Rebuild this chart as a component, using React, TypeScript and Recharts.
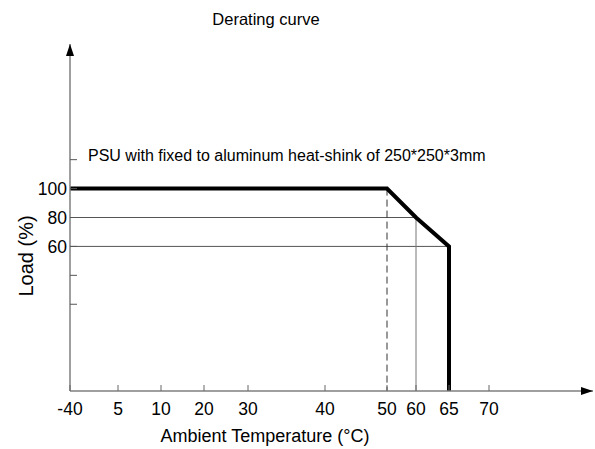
import React from 'react';
import {
    ComposedChart, Line, XAxis, YAxis, ReferenceLine, ReferenceDot, Customized
} from 'recharts';

// ambient temperature tick labels (°C) and load ticks (%)
const tempTicks = [-40, 5, 10, 20, 30, 40, 50, 60, 65, 70];
const loadTicks = [20, 40, 60, 80, 100, 120];
const loadLabels = [60, 80, 100];

// derating curve
const curveTemp = [-40, 50, 60, 65, 65];
const curveLoad = [100, 100, 80, 60, -40];

const LOAD_MIN = -40;
const LOAD_MAX = 200;

// the temperature axis is hand drawn (not to scale): offset of each tick along it
const TICK_OFFSET = [0, 48, 91, 134, 178, 255, 317, 346, 379, 419];
const AXIS_LEN = 523;

const FONT = '"Liberation Sans", Arial, sans-serif';

const toAxis = (t: number) => {
    for (let i = 1; i < tempTicks.length; i++) {
        if (t <= tempTicks[i]) {
            const f = (t - tempTicks[i - 1]) / (tempTicks[i] - tempTicks[i - 1]);
            return TICK_OFFSET[i - 1] + f * (TICK_OFFSET[i] - TICK_OFFSET[i - 1]);
        }
    }
    return TICK_OFFSET[TICK_OFFSET.length - 1];
};

const curve = curveTemp.map((t, i) => ({ x: toAxis(t), load: curveLoad[i] }));
const xTickPos = tempTicks.map(toAxis);

const XTick = (props: any) => {
    const { x, y, payload } = props;
    const idx = xTickPos.indexOf(payload.value);
    return (
        <g>
            <line x1={x} x2={x} y1={y} y2={y - 6} stroke="#666" strokeWidth={1} />
            <text x={x} y={y + 24} textAnchor="middle" fontSize={17.5} fontFamily={FONT} fill="#000">
                {tempTicks[idx]}
            </text>
        </g>
    );
};

const YTick = (props: any) => {
    const { x, y, payload } = props;
    return (
        <g>
            <line x1={x} x2={x + 7} y1={y} y2={y} stroke="#555" strokeWidth={1} />
            {loadLabels.includes(payload.value) && (
                <text x={x - 3} y={y + 6.5} textAnchor="end" fontSize={17.5} fontFamily={FONT} fill="#000">
                    {payload.value}
                </text>
            )}
        </g>
    );
};

const ArrowRight = (p: any) => (
    <polygon points={`${p.cx},${p.cy} ${p.cx - 12},${p.cy - 4} ${p.cx - 12},${p.cy + 4}`} fill="#000" />
);
const ArrowUp = (p: any) => (
    <polygon points={`${p.cx},${p.cy} ${p.cx - 4},${p.cy + 12} ${p.cx + 4},${p.cy + 12}`} fill="#000" />
);

const Texts = () => (
    <g fontFamily={FONT} fill="#000">
        <text x={266} y={25} textAnchor="middle" fontSize={16.5}>Derating curve</text>
        <text x={88} y={161} fontSize={16}>PSU with fixed to aluminum heat-shink of 250*250*3mm</text>
        <text x={265} y={442} textAnchor="middle" fontSize={18}>Ambient Temperature (°C)</text>
        <text x={0} y={0} textAnchor="middle" fontSize={20} transform="translate(33,256) rotate(-90)">Load (%)</text>
    </g>
);

export default function App() {
    return (
        <div style={{ position: 'absolute', left: 0, top: 0, background: '#fff' }}>
            <ComposedChart width={595} height={449} data={curve} margin={{ top: 44, right: 2, bottom: 0, left: 0 }}>
                <XAxis
                    type="number" dataKey="x" domain={[0, AXIS_LEN]} ticks={xTickPos} interval={0}
                    height={58} tickSize={0} tickMargin={0} tickLine={false} tick={<XTick />}
                    axisLine={{ stroke: '#7f7f7f', strokeWidth: 1.5 }}
                />
                <YAxis
                    type="number" domain={[LOAD_MIN, LOAD_MAX]} ticks={loadTicks} interval={0}
                    width={70} tickSize={0} tickMargin={0} tickLine={false} tick={<YTick />}
                    axisLine={{ stroke: '#7f7f7f', strokeWidth: 1.5 }}
                />
                <ReferenceLine segment={[{ x: toAxis(-40), y: 80 }, { x: toAxis(60), y: 80 }]} stroke="#555" strokeWidth={1} />
                <ReferenceLine segment={[{ x: toAxis(-40), y: 60 }, { x: toAxis(65), y: 60 }]} stroke="#555" strokeWidth={1} />
                <ReferenceLine segment={[{ x: toAxis(50), y: 100 }, { x: toAxis(50), y: LOAD_MIN }]} stroke="#333" strokeWidth={1} strokeDasharray="7 4" />
                <ReferenceLine segment={[{ x: toAxis(60), y: 80 }, { x: toAxis(60), y: LOAD_MIN }]} stroke="#777" strokeWidth={1} />
                <Line
                    type="linear" dataKey="load" stroke="#000" strokeWidth={4} dot={false}
                    strokeLinejoin="miter" isAnimationActive={false}
                />
                <ReferenceDot x={AXIS_LEN} y={LOAD_MIN} r={0} shape={<ArrowRight />} ifOverflow="visible" />
                <ReferenceDot x={0} y={LOAD_MAX} r={0} shape={<ArrowUp />} ifOverflow="visible" />
                <Customized component={<Texts />} />
            </ComposedChart>
        </div>
    );
}
